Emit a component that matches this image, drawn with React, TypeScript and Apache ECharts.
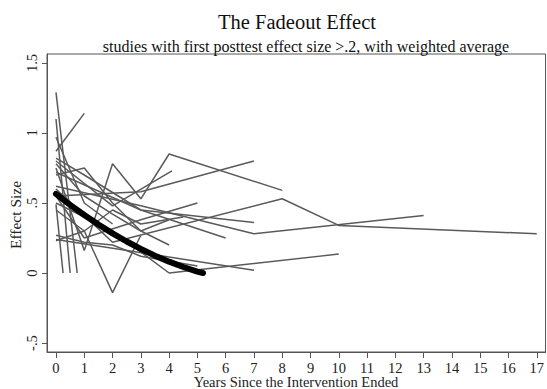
import React, { useEffect, useRef } from "react";
import * as echarts from "echarts";

// [years since intervention ended, effect size]
const study01 = [[0, 1.29], [0.75, 0.0]];
const study02 = [[0, 1.1], [0.5, 0.0]];
const study03 = [[0, 0.49], [0.25, 0.0]];
const study04 = [[0, 0.87], [1, 1.14]];
const study05 = [[0, 0.97], [1, 0.5], [2, 0.35]];
const study06 = [[0, 0.75], [1, 0.16], [2, 0.78], [3, 0.53], [4, 0.85], [8, 0.59]];
const study07 = [[0, 0.45], [1, 0.3], [2, -0.14], [3, 0.27]];
const study08 = [[0, 0.5], [2, 0.3], [4, 0.0], [10, 0.135]];
const study09 = [[0, 0.24], [7, 0.02]];
const study10 = [[0, 0.62], [3, 0.48], [7, 0.28], [13, 0.41]];
const study11 = [[0, 0.6], [2, 0.22], [8, 0.53], [10, 0.34], [17, 0.28]];
const study12 = [[0, 0.55], [3, 0.58], [7, 0.8]];
const study13 = [[0, 0.8], [2, 0.48], [4.1, 0.73]];
const study14 = [[0, 0.55], [1, 0.25], [3, 0.38], [5, 0.5]];
const study15 = [[0, 0.72], [3, 0.45], [6, 0.25]];
const study16 = [[0, 0.82], [1, 0.7], [3, 0.45], [7, 0.36]];
const study17 = [[0, 0.7], [1, 0.75], [2, 0.5], [3, 0.3], [4, 0.38]];
const study18 = [[0, 0.23], [1, 0.3], [2, 0.45], [3, 0.35], [4.5, 0.4]];
const study19 = [[0, 0.27], [1, 0.22], [2, 0.2], [3, 0.12], [5, 0.05]];
const study20 = [[0, 0.78], [1, 0.55], [2, 0.42], [3, 0.3], [4, 0.2]];

const studies = [
  study01, study02, study03, study04, study05, study06, study07, study08, study09, study10,
  study11, study12, study13, study14, study15, study16, study17, study18, study19, study20,
];

const avgX = [0, 0.5, 1, 1.5, 2, 2.5, 3, 3.5, 4, 4.5, 5, 5.2];
const avgY = [0.565, 0.487, 0.414, 0.346, 0.283, 0.225, 0.172, 0.124, 0.081, 0.043, 0.01, 0.0];

const xTicks = [0, 1, 2, 3, 4, 5, 6, 7, 8, 9, 10, 11, 12, 13, 14, 15, 16, 17];
const yTicks = [-0.5, 0, 0.5, 1, 1.5];
const yTickLabels = ["-.5", "0", ".5", "1", "1.5"];

const FONT = "Liberation Serif";

export default function App() {
  const ref = useRef<HTMLDivElement>(null);
  useEffect(() => {
    if (!ref.current) return;
    const chart = echarts.init(ref.current, undefined, { renderer: "svg" });
    const series: any[] = studies.map((s) => ({
      type: "line",
      data: s,
      showSymbol: false,
      symbol: "none",
      lineStyle: { color: "#5a5a5a", width: 1.5 },
      silent: true,
    }));
    series.push({
      type: "line",
      data: avgX.map((x, i) => [x, avgY[i]]),
      symbol: "none",
      lineStyle: { color: "#000", width: 6, cap: "round", join: "round" },
      silent: true,
      z: 5,
    });
    chart.setOption({
      animation: false,
      backgroundColor: "#fff",
      textStyle: { fontFamily: FONT },
      grid: {
        left: 47,
        top: 54,
        width: 499,
        height: 298,
        show: true,
        borderColor: "#555",
        borderWidth: 1,
        containLabel: false,
      },
      title: [
        {
          text: "The Fadeout Effect",
          left: 292,
          top: 6,
          textAlign: "center",
          textStyle: { fontFamily: FONT, fontSize: 20.5, fontWeight: "normal", color: "#111" },
        },
        {
          text: "studies with first posttest effect size >.2, with weighted average",
          left: 301,
          top: 33,
          textAlign: "center",
          textStyle: { fontFamily: FONT, fontSize: 16, fontWeight: "normal", color: "#111" },
        },
      ],
      xAxis: {
        type: "value",
        min: -0.318,
        max: 17.31,
        splitLine: { show: false },
        axisLine: { show: true, onZero: false, lineStyle: { color: "#555" } },
        axisTick: { show: true, length: 6, customValues: xTicks, lineStyle: { color: "#555" } },
        axisLabel: {
          customValues: xTicks,
          margin: 8,
          fontFamily: FONT,
          fontSize: 14.5,
          color: "#222",
        },
      },
      yAxis: {
        type: "value",
        min: -0.564,
        max: 1.564,
        splitLine: { show: false },
        axisLine: { show: true, onZero: false, lineStyle: { color: "#555" } },
        axisTick: { show: true, length: 5, customValues: yTicks, lineStyle: { color: "#555" } },
        axisLabel: {
          customValues: yTicks,
          rotate: 90,
          margin: 8,
          fontFamily: FONT,
          fontSize: 14.5,
          color: "#222",
          formatter: (v: number) => {
            const i = yTicks.findIndex((t) => Math.abs(t - v) < 1e-6);
            return i >= 0 ? yTickLabels[i] : "";
          },
        },
      },
      graphic: [
        {
          type: "text",
          x: 296,
          y: 382,
          style: {
            text: "Years Since the Intervention Ended",
            fontFamily: FONT,
            fontSize: 14.5,
            fill: "#222",
            align: "center",
            verticalAlign: "middle",
          },
        },
        {
          type: "text",
          x: 15,
          y: 215,
          rotation: Math.PI / 2,
          style: {
            text: "Effect Size",
            fontFamily: FONT,
            fontSize: 15.5,
            fill: "#222",
            align: "center",
            verticalAlign: "middle",
          },
        },
      ],
      series,
    });
    return () => chart.dispose();
  }, []);
  return (
    <div
      ref={ref}
      style={{ position: "fixed", left: 0, top: 0, width: 547, height: 389 }}
    />
  );
}
